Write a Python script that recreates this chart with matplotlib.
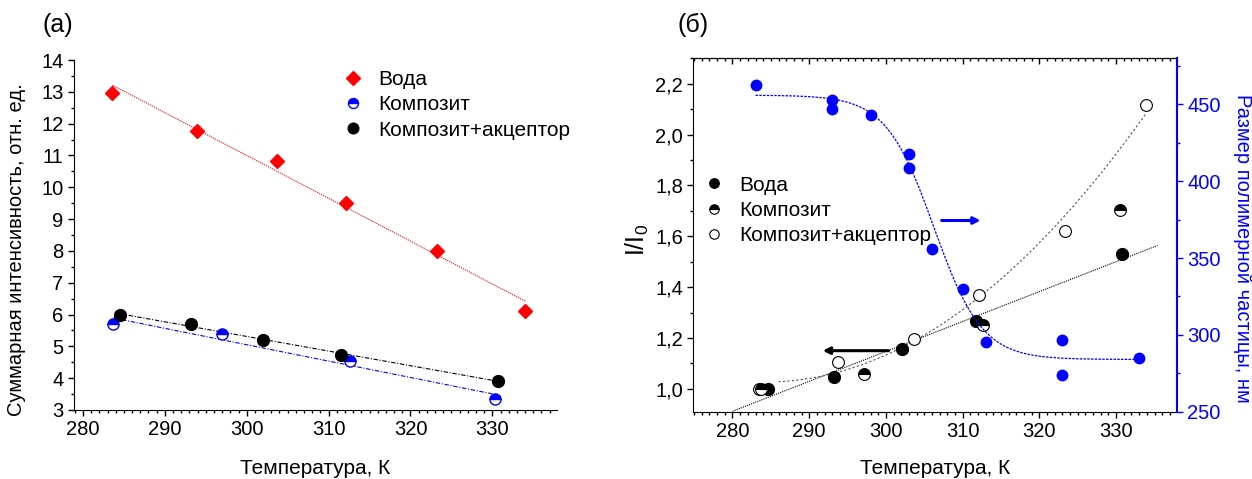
import matplotlib
matplotlib.use('Agg')
import matplotlib.pyplot as plt
import numpy as np
from matplotlib.ticker import MultipleLocator, FuncFormatter, NullFormatter

plt.rcParams['font.family'] = ['Liberation Sans', 'DejaVu Sans']
plt.rcParams['mathtext.fontset'] = 'custom'
plt.rcParams['mathtext.rm'] = 'Liberation Sans'
plt.rcParams['mathtext.it'] = 'Liberation Sans'

# ---- panel (a): summed intensity vs temperature ----
T_water_a = [283.6, 293.9, 303.7, 312.1, 323.3, 334.0]
I_water_a = [12.97, 11.76, 10.84, 9.50, 8.00, 6.12]
T_comp_a = [283.7, 297.0, 312.6, 330.3]
I_comp_a = [5.71, 5.38, 4.55, 3.35]
T_acc_a = [284.5, 293.2, 302.0, 311.5, 330.7]
I_acc_a = [5.99, 5.71, 5.19, 4.74, 3.92]

# ---- panel (б): I/I0 and particle size vs temperature ----
T_water_b = [284.6, 293.2, 302.1, 311.7, 330.7]
R_water_b = [1.00, 1.048, 1.155, 1.265, 1.53]
T_comp_b = [283.7, 297.1, 312.6, 330.5]
R_comp_b = [1.00, 1.06, 1.25, 1.705]
T_acc_b = [283.5, 293.8, 303.7, 312.1, 323.4, 333.9]
R_acc_b = [1.00, 1.105, 1.197, 1.369, 1.619, 2.118]

T_size = [283, 293, 293, 298, 303, 303, 306, 310, 313, 323, 323, 333]
D_size = [462.6, 453.0, 446.7, 443.1, 417.4, 408.3, 355.8, 329.9, 295.6, 296.7, 273.9, 284.7]

# Boltzmann fit of particle size (A1, A2, x0, dx)
boltz = (456.0, 284.0, 306.25, 3.14)

BLUE = '#0000ff'
RED = '#ff0000'
TICK_FS = 14.5
LABEL_FS = 15
LEG_FS = 15


def comma_fmt(v, pos):
    return f'{v:.1f}'.replace('.', ',')


fig = plt.figure(figsize=(12.52, 4.79), dpi=100)
ax_a = fig.add_axes([0.0591, 0.1441, 0.3858, 0.7306])
ax_b = fig.add_axes([0.5538, 0.1405, 0.3861, 0.7378])

# ----- (a) -----
for T, I, col, ls in [(T_water_a, I_water_a, RED, (0, (1, 1))),
                      (T_comp_a, I_comp_a, BLUE, (0, (4, 1.5, 1, 1.5))),
                      (T_acc_a, I_acc_a, 'black', (0, (4, 1.5, 1, 1.5)))]:
    k, b = np.polyfit(T, I, 1)
    xs = np.array([min(T), max(T)])
    ax_a.plot(xs, k * xs + b, color=col, lw=0.8, linestyle=ls, zorder=1)

ax_a.plot(T_water_a, I_water_a, 'D', color=RED, ms=7.5, mec=RED, label='Вода', zorder=3)
ax_a.plot(T_comp_a, I_comp_a, 'o', ms=8, fillstyle='top', mfc=BLUE,
          markerfacecoloralt='white', mec=BLUE, mew=1, label='Композит', zorder=3)
ax_a.plot(T_acc_a, I_acc_a, 'o', color='black', ms=8.5, label='Композит+акцептор', zorder=4)

ax_a.set_xlim(278.9, 337.9)
ax_a.set_ylim(3, 14)
ax_a.spines['top'].set_visible(False)
ax_a.spines['right'].set_visible(False)
ax_a.xaxis.set_major_locator(MultipleLocator(10))
ax_a.xaxis.set_minor_locator(MultipleLocator(1))
ax_a.yaxis.set_major_locator(MultipleLocator(1))
ax_a.yaxis.set_minor_locator(MultipleLocator(0.5))
ax_a.tick_params(which='both', direction='out', labelsize=TICK_FS, width=1)
ax_a.tick_params(which='major', length=4)
ax_a.tick_params(which='minor', length=2.5)
ax_a.set_ylabel('Суммарная интенсивность, отн. ед.', fontsize=14.5, va='center')
ax_a.yaxis.set_label_coords(-0.118, 0.457)
ax_a.set_xlabel('Температура, К', fontsize=LABEL_FS, va='center')
ax_a.xaxis.set_label_coords(0.5, -0.166)
ax_a.legend(loc='upper left', bbox_to_anchor=(0.556, 0.971), frameon=False,
            borderaxespad=0, borderpad=0, handlelength=1, handletextpad=0.7,
            labelspacing=0.3, fontsize=LEG_FS, markerscale=0.9)

# ----- (б) -----
ax_r = ax_b.twinx()

k, b = np.polyfit(T_water_b, R_water_b, 1)
xs = np.array([280, 335.4])
ax_b.plot(xs, k * xs + b, color='black', lw=0.8, linestyle=(0, (1, 1)), zorder=1)

c2 = np.polyfit(T_acc_b, R_acc_b, 2)
xs = np.linspace(286, max(T_acc_b), 200)
ax_b.plot(xs, np.polyval(c2, xs), color='#555555', lw=0.8, linestyle=(0, (2, 2)), zorder=1)

ax_b.plot(T_water_b, R_water_b, 'o', color='black', ms=8.5, label='Вода', zorder=3)
ax_b.plot(T_comp_b, R_comp_b, 'o', ms=8.5, fillstyle='top', mfc='black',
          markerfacecoloralt='white', mec='black', mew=0.8, label='Композит', zorder=3)
ax_b.plot(T_acc_b, R_acc_b, 'o', ms=8.5, mfc='white', mec='black', mew=0.8,
          label='Композит+акцептор', zorder=2)

A1, A2, x0, dx = boltz
xs = np.linspace(min(T_size), max(T_size), 300)
ax_r.plot(xs, A2 + (A1 - A2) / (1 + np.exp((xs - x0) / dx)), color=BLUE, lw=0.9,
          linestyle=(0, (2, 1)), zorder=1)
ax_r.plot(T_size, D_size, 'o', color=BLUE, ms=7.5, zorder=3)

# arrows pointing to the relevant axis
ax_b.annotate('', xy=(312.7, 1.662), xytext=(306.9, 1.662),
              arrowprops=dict(arrowstyle='-|>', color=BLUE, lw=2.2, mutation_scale=10))
ax_b.annotate('', xy=(291.4, 1.15), xytext=(300.7, 1.15),
              arrowprops=dict(arrowstyle='-|>', color='black', lw=2.2, mutation_scale=10))

ax_b.set_xlim(274.9, 337.9)
ax_b.set_ylim(0.91, 2.3)
ax_r.set_ylim(250, 480)

ax_b.spines['right'].set_visible(False)
for s in ['top', 'left', 'bottom']:
    ax_r.spines[s].set_visible(False)
ax_r.spines['right'].set_color(BLUE)
ax_r.spines['right'].set_linewidth(1.5)

ax_b.xaxis.set_major_locator(MultipleLocator(10))
ax_b.xaxis.set_minor_locator(MultipleLocator(1))
ax_b.yaxis.set_major_locator(MultipleLocator(0.2))
ax_b.yaxis.set_minor_locator(MultipleLocator(0.1))
ax_b.yaxis.set_major_formatter(FuncFormatter(comma_fmt))
ax_b.tick_params(which='both', direction='out', labelsize=TICK_FS, width=1)
ax_b.tick_params(which='major', length=4)
ax_b.tick_params(which='minor', length=2.5)

top = ax_b.secondary_xaxis('top')
top.xaxis.set_major_locator(MultipleLocator(10))
top.xaxis.set_minor_locator(MultipleLocator(1))
top.xaxis.set_major_formatter(NullFormatter())
top.tick_params(which='both', direction='in', width=1)
top.tick_params(which='major', length=4)
top.tick_params(which='minor', length=2.5)

ax_r.yaxis.set_major_locator(MultipleLocator(50))
ax_r.yaxis.set_minor_locator(MultipleLocator(25))
ax_r.tick_params(which='both', direction='out', colors=BLUE, labelsize=TICK_FS, width=1)
ax_r.tick_params(which='major', length=4)
ax_r.tick_params(which='minor', length=2.5)

ax_b.set_ylabel('I/I$_0$', fontsize=18, va='center')
ax_b.yaxis.set_label_coords(-0.115, 0.486)
ax_b.set_xlabel('Температура, К', fontsize=LABEL_FS, va='center')
ax_b.xaxis.set_label_coords(0.5, -0.16)
ax_r.set_ylabel('Размер полимерной частицы, нм', fontsize=14.5, color=BLUE,
                rotation=270, va='center')
ax_r.yaxis.set_label_coords(1.137, 0.463)

ax_b.legend(loc='upper left', bbox_to_anchor=(0.022, 0.668), frameon=False,
            borderaxespad=0, borderpad=0, handlelength=1, handletextpad=0.7,
            labelspacing=0.3, fontsize=LEG_FS, markerscale=0.8)

fig.text(57.4 / 1252, 1 - 25 / 479, '(a)', fontsize=18, ha='center', va='center')
fig.text(692.7 / 1252, 1 - 25 / 479, '(б)', fontsize=18, ha='center', va='center')

fig.savefig('out.png', dpi=100, facecolor='white')
